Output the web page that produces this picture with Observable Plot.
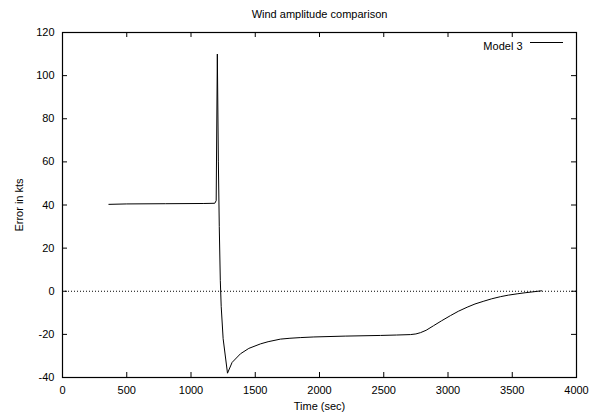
<!DOCTYPE html>
<html>
<head>
<meta charset="utf-8">
<script src="https://cdn.jsdelivr.net/npm/d3@7"></script>
<script src="https://cdn.jsdelivr.net/npm/@observablehq/plot@0.6"></script>
<style>
  html, body { margin: 0; padding: 0; background: #fff; }
  svg { display: block; }
</style>
</head>
<body>
<div id="chart"></div>
<script>
const title = "Wind amplitude comparison";
const xLabel = "Time (sec)";
const yLabel = "Error in kts";
const seriesName = "Model 3";

const timeSec = [361, 500, 800, 1100, 1185, 1196, 1205, 1213, 1220, 1228, 1235, 1250, 1284, 1320, 1385, 1450, 1541, 1600, 1696, 1770, 1850, 1956, 2200, 2475, 2600, 2708, 2750, 2786, 2830, 2887, 2950, 3019, 3080, 3149, 3210, 3279, 3340, 3409, 3470, 3538, 3600, 3728];
const errorKts = [40.3, 40.5, 40.6, 40.7, 40.8, 42, 110, 60, 30, 5, -7, -22, -38, -33, -29, -26.5, -24.4, -23.4, -22.2, -21.8, -21.5, -21.2, -20.8, -20.5, -20.3, -20.1, -19.8, -19.2, -18.1, -16.0, -13.7, -11.3, -9.3, -7.4, -5.9, -4.6, -3.5, -2.5, -1.8, -1.2, -0.7, 0.2];

const xTicks = [0, 500, 1000, 1500, 2000, 2500, 3000, 3500, 4000];
const yTicks = [-40, -20, 0, 20, 40, 60, 80, 100, 120];

const data = timeSec.map((t, i) => ({t, e: errorKts[i]}));

const W = 592, H = 417, mL = 62, mR = 16, mT = 32, mB = 40;
const plotW = W - mL - mR, plotH = H - mT - mB;
const tk = 5;

const chart = Plot.plot({
  width: W,
  height: H,
  marginLeft: mL,
  marginRight: mR,
  marginTop: mT,
  marginBottom: mB,
  style: {fontFamily: "'Liberation Sans', Arial, Helvetica, sans-serif", fontSize: "11px", color: "#000", background: "#fff"},
  x: {domain: [0, 4000]},
  y: {domain: [-40, 120]},
  marks: [
    Plot.axisX(xTicks, {tickSize: 0, tickPadding: 9, tickFormat: d => String(d), label: xLabel, labelAnchor: "center", labelOffset: 32, labelArrow: false, fontSize: 11}),
    Plot.axisY(yTicks, {tickSize: 0, tickPadding: 8, tickFormat: d => String(d), label: yLabel, labelAnchor: "center", labelOffset: 47, labelArrow: false, fontSize: 11}),
    Plot.ruleY([0], {x1: 0, x2: 4000, stroke: "#000", strokeWidth: 1, strokeDasharray: "1,2"}),
    Plot.tickX(xTicks, {x: d => d, insetTop: plotH - tk, stroke: "#000"}),
    Plot.tickX(xTicks, {x: d => d, insetBottom: plotH - tk, stroke: "#000"}),
    Plot.tickY(yTicks, {y: d => d, insetRight: plotW - tk, stroke: "#000"}),
    Plot.tickY(yTicks, {y: d => d, insetLeft: plotW - tk, stroke: "#000"}),
    Plot.line(data, {x: "t", y: "e", stroke: "#000", strokeWidth: 1}),
    Plot.frame({stroke: "#000", strokeWidth: 1.2}),
    Plot.text([title], {frameAnchor: "top", dy: -22, fontSize: 11, fill: "#000"}),
    Plot.text([seriesName], {frameAnchor: "top-right", dx: -54, dy: 10, textAnchor: "end", fontSize: 11, fill: "#000"})
  ]
});

// legend sample line
const svg = d3.select(chart);
svg.append("line")
  .attr("x1", W - mR - 46).attr("x2", W - mR - 13)
  .attr("y1", mT + 10.5).attr("y2", mT + 10.5)
  .attr("stroke", "#000").attr("stroke-width", 1);

document.getElementById("chart").appendChild(chart);
</script>
</body>
</html>
